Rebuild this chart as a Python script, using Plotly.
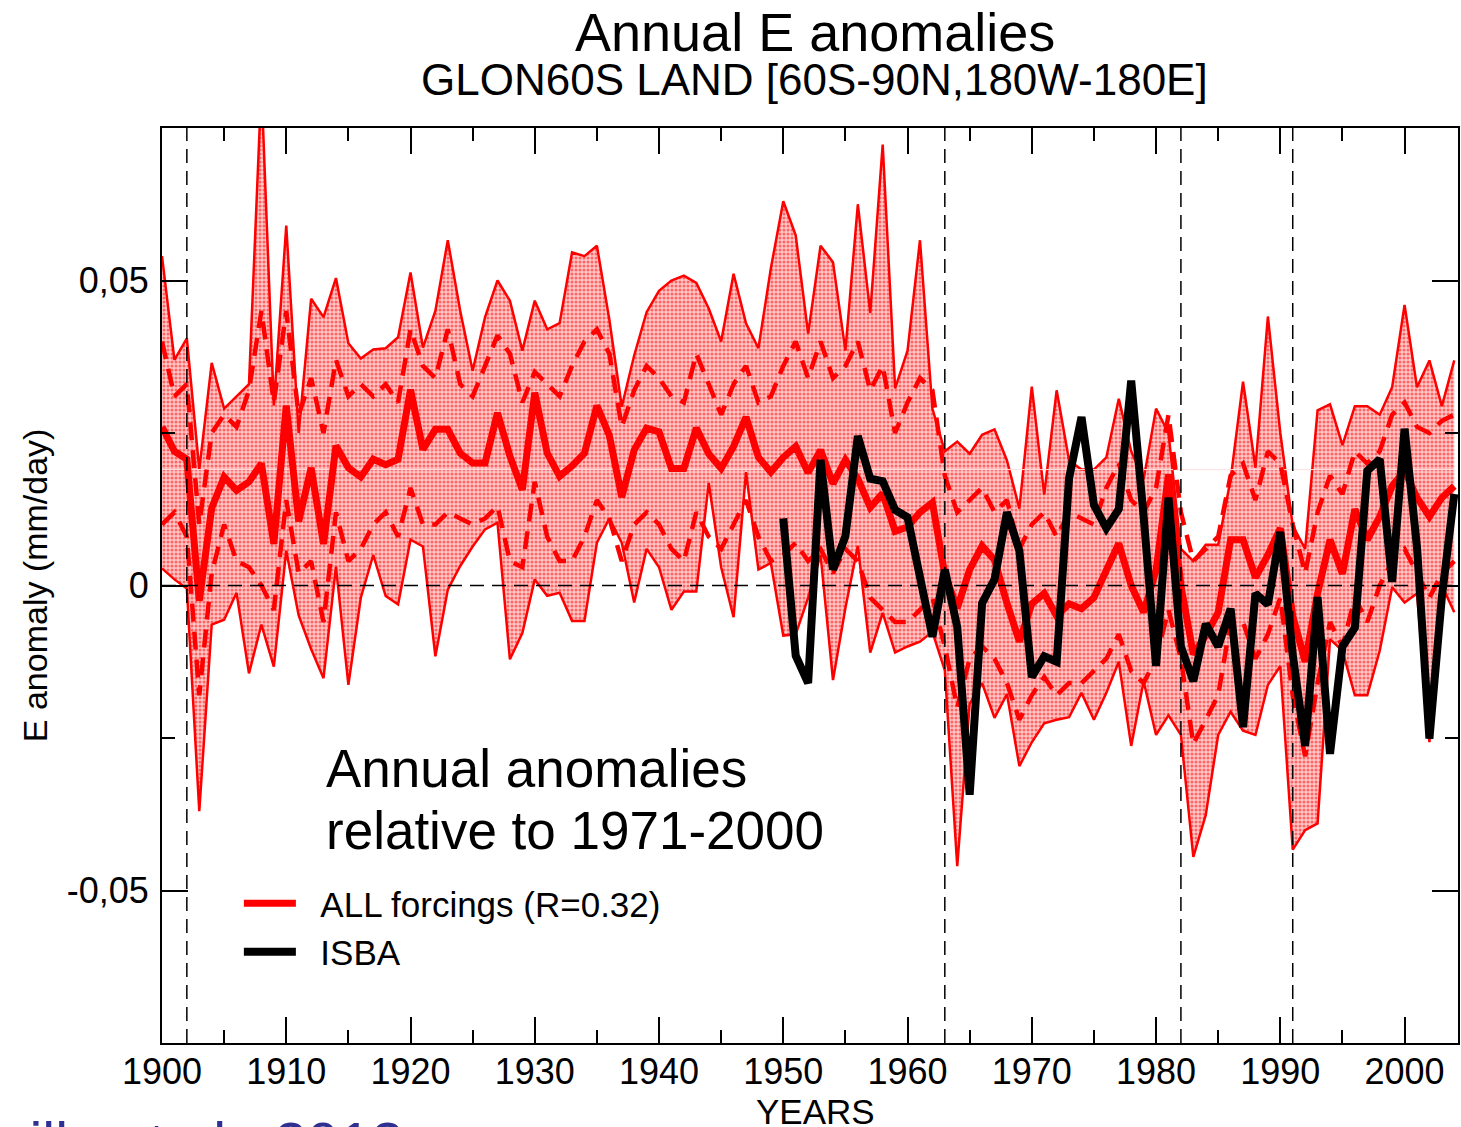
import plotly.graph_objects as go

years = list(range(1900, 2005))

ens_max = [0.054, 0.037, 0.0405, 0.019, 0.0365, 0.029, 0.031, 0.033, 0.082, 0.0295,
           0.059, 0.025, 0.047, 0.044, 0.0504, 0.0397, 0.0372, 0.0387, 0.0389, 0.0407,
           0.0513, 0.039, 0.045, 0.0566, 0.045, 0.0352, 0.044, 0.050, 0.0467, 0.0385,
           0.0467, 0.042, 0.043, 0.0546, 0.054, 0.0557, 0.0436, 0.0293, 0.0377, 0.0448,
           0.0483, 0.050, 0.0508, 0.0496, 0.0454, 0.040, 0.0511, 0.043, 0.0389, 0.052,
           0.063, 0.0574, 0.0413, 0.0557, 0.053, 0.0385, 0.0625, 0.0447, 0.0723, 0.0323,
           0.0385, 0.0566, 0.029, 0.022, 0.0236, 0.0216, 0.0247, 0.0256, 0.0205, 0.0126,
           0.0326, 0.0149, 0.032, 0.0205, 0.019, 0.019, 0.021, 0.0306, 0.022, 0.0174,
           0.029, 0.025, 0.006, 0.004, 0.0067, 0.0067, 0.0174, 0.0334, 0.0193, 0.0441,
           0.025, 0.0098, 0.006, 0.0287, 0.0297, 0.023, 0.0294, 0.0294, 0.028, 0.0325,
           0.046, 0.0325, 0.0369, 0.0294, 0.0369]

ens_min = [0.0028, 0.001, -0.0005, -0.037, -0.0064, -0.0056, -0.0012, -0.0144, -0.0064, -0.0133,
           0.0057, -0.0049, -0.0104, -0.0152, 0.0031, -0.0163, -0.002, 0.005, -0.0017, -0.0031,
           0.0075, 0.0064, -0.0116, -0.0007, 0.0032, 0.0064, 0.0092, 0.0103, -0.0121, -0.0078,
           0.001, -0.0017, -0.0012, -0.0058, -0.0058, 0.007, 0.011, 0.007, -0.0028, 0.006,
           0.003, -0.004, -0.001, -0.001, 0.0168, 0.003, -0.0052, 0.0186, 0.0026, 0.0037,
           -0.0082, -0.008, -0.002, 0.005, -0.0155, -0.0037, 0.0065, -0.011, -0.0045, -0.011,
           -0.010, -0.0092, -0.0076, -0.0139, -0.046, -0.0194, -0.016, -0.0217, -0.0178, -0.0296,
           -0.0257, -0.0226, -0.022, -0.0216, -0.0176, -0.022, -0.0176, -0.0125, -0.0263, -0.0157,
           -0.0245, -0.0213, -0.0245, -0.0445, -0.0376, -0.0245, -0.0207, -0.0238, -0.0245, -0.0163,
           -0.0132, -0.0433, -0.0401, -0.039, -0.0088, -0.0107, -0.018, -0.018, -0.0107, -0.0003,
           -0.0028, -0.0013, -0.0257, 0.0, -0.0044]

ens_mean = [0.026, 0.022, 0.0207, -0.0025, 0.0127, 0.0178, 0.0156, 0.017, 0.020, 0.0068,
            0.0295, 0.0105, 0.0193, 0.0068, 0.0229, 0.0193, 0.0178, 0.0207, 0.0198, 0.0207,
            0.0321, 0.0223, 0.0256, 0.0256, 0.0217, 0.0201, 0.0201, 0.0283, 0.0212, 0.0157,
            0.0316, 0.0217, 0.0179, 0.0196, 0.0217, 0.0295, 0.0246, 0.0145, 0.0222, 0.0258,
            0.0252, 0.0192, 0.0192, 0.0258, 0.0216, 0.0192, 0.0228, 0.0276, 0.021, 0.0186,
            0.021, 0.0228, 0.0185, 0.0222, 0.0167, 0.0206, 0.0175, 0.0128, 0.0151, 0.0089,
            0.0096, 0.012, 0.0136, 0.0018, -0.0037, 0.0026, 0.0065, 0.0042, -0.0029, -0.0092,
            -0.003, -0.0013, -0.005, -0.003, -0.0038, -0.002, 0.0025, 0.0069, 0.0, -0.0044,
            0.0025, 0.0182, 0.0, -0.0113, -0.0082, -0.0044, 0.0075, 0.0075, 0.0013, 0.005,
            0.0094, -0.005, -0.0125, -0.0013, 0.0075, 0.0019, 0.0125, 0.0075, 0.0113, 0.0163,
            0.0188, 0.0144, 0.0113, 0.0144, 0.0163]

ens_plus_std = [0.040, 0.031, 0.033, 0.010, 0.025, 0.028, 0.026, 0.032, 0.045, 0.030,
                0.045, 0.028, 0.034, 0.025, 0.037, 0.031, 0.033, 0.031, 0.033, 0.030,
                0.042, 0.036, 0.034, 0.042, 0.033, 0.031, 0.036, 0.041, 0.038, 0.030,
                0.035, 0.033, 0.031, 0.036, 0.040, 0.042, 0.038, 0.026, 0.032, 0.036,
                0.034, 0.031, 0.030, 0.038, 0.033, 0.028, 0.033, 0.036, 0.030, 0.031,
                0.036, 0.040, 0.034, 0.040, 0.034, 0.036, 0.040, 0.032, 0.036, 0.025,
                0.030, 0.034, 0.032, 0.018, 0.012, 0.014, 0.016, 0.012, 0.014, 0.006,
                0.010, 0.012, 0.008, 0.012, 0.011, 0.010, 0.016, 0.020, 0.014, 0.012,
                0.016, 0.028, 0.012, 0.004, 0.006, 0.008, 0.018, 0.020, 0.014, 0.022,
                0.020, 0.010, 0.002, 0.012, 0.018, 0.015, 0.022, 0.020, 0.022, 0.028,
                0.030, 0.026, 0.025, 0.027, 0.028]

ens_minus_std = [0.010, 0.012, 0.008, -0.018, 0.002, 0.010, 0.004, 0.003, 0.000, -0.004,
                 0.014, 0.002, 0.004, -0.006, 0.012, 0.004, 0.006, 0.010, 0.012, 0.008,
                 0.016, 0.010, 0.010, 0.012, 0.011, 0.010, 0.011, 0.013, 0.004, 0.003,
                 0.017, 0.008, 0.004, 0.004, 0.008, 0.014, 0.011, 0.004, 0.010, 0.012,
                 0.010, 0.006, 0.004, 0.012, 0.008, 0.006, 0.010, 0.014, 0.008, 0.004,
                 0.005, 0.007, 0.004, 0.006, 0.002, 0.006, 0.004, -0.002, -0.004, -0.006,
                 -0.006, -0.004, -0.002, -0.010, -0.020, -0.012, -0.010, -0.012, -0.016, -0.022,
                 -0.018, -0.015, -0.018, -0.016, -0.016, -0.014, -0.012, -0.008, -0.014, -0.016,
                 -0.012, -0.004, -0.012, -0.026, -0.022, -0.018, -0.006, -0.006, -0.012, -0.008,
                 -0.002, -0.018, -0.028, -0.016, -0.006, -0.010, -0.002, -0.006, 0.000, 0.004,
                 0.006, 0.002, -0.002, 0.002, 0.004]

isba_years = list(range(1950, 2005))
isba = [0.011, -0.0115, -0.016, 0.0206, 0.0026, 0.0081, 0.0245, 0.0175, 0.0171, 0.0124,
        0.0112, 0.0018, -0.0084, 0.0026, -0.0068, -0.0343, -0.0029, 0.001, 0.012, 0.0057,
        -0.015, -0.0116, -0.0125, 0.0176, 0.0276, 0.0132, 0.0094, 0.0125, 0.0336, 0.0113,
        -0.0132, 0.0144, -0.010, -0.0157, -0.0063, -0.010, -0.0038, -0.0232, -0.0013, -0.0031,
        0.0088, -0.0113, -0.0263, -0.0019, -0.0276, -0.010, -0.0069, 0.0188, 0.0207, 0.0006,
        0.0257, 0.0063, -0.0251, -0.0019, 0.015]

eruption_years = [1902, 1963, 1982, 1991]
ref_level = 0.019

y_tickvals = [-0.05, 0, 0.05]
y_ticktext = ["-0,05", "0", "0,05"]
x_tickvals = list(range(1900, 2001, 10))

FONT = "Liberation Sans, Arial, sans-serif"
RED = "#ff0000"
NB = "\u00a0\u00a0"

fig = go.Figure()

# envelope fill (min to max)
fig.add_trace(go.Scatter(x=years, y=ens_min, mode="lines",
                         line=dict(color=RED, width=2.5), showlegend=False, hoverinfo="skip"))
fig.add_trace(go.Scatter(x=years, y=ens_max, mode="lines", fill="tonexty",
                         fillcolor="rgba(255,0,0,0.35)",
                         fillpattern=dict(shape=".", fgcolor=RED, bgcolor="rgba(255,200,200,1)",
                                          size=4, solidity=0.45),
                         line=dict(color=RED, width=2.5), showlegend=False, hoverinfo="skip"))

fig.add_trace(go.Scatter(x=[years[0], years[-1]], y=[ref_level, ref_level], mode="lines",
                         line=dict(color="rgba(255,225,225,1)", width=1),
                         showlegend=False, hoverinfo="skip"))

fig.add_trace(go.Scatter(x=years, y=ens_plus_std, mode="lines",
                         line=dict(color=RED, width=4.5, dash="18px,10px"),
                         showlegend=False))
fig.add_trace(go.Scatter(x=years, y=ens_minus_std, mode="lines",
                         line=dict(color=RED, width=4.5, dash="18px,10px"),
                         showlegend=False))

fig.add_trace(go.Scatter(x=years, y=ens_mean, mode="lines", name=NB + "ALL forcings (R=0.32)",
                         line=dict(color=RED, width=7)))
fig.add_trace(go.Scatter(x=isba_years, y=isba, mode="lines", name=NB + "ISBA",
                         line=dict(color="black", width=8)))

shapes = [dict(type="line", xref="paper", yref="y", x0=0, x1=1, y0=0, y1=0,
               line=dict(color="black", width=1.5, dash="14px,8px"), layer="above")]
for yr in eruption_years:
    shapes.append(dict(type="line", xref="x", yref="paper", x0=yr, x1=yr, y0=0, y1=1,
                       line=dict(color="black", width=1.5, dash="14px,8px"), layer="above"))

def px_x(px):
    return (px - 162) / 1298

def px_y(py):
    return (1043 - py) / 915

annotations = [
    dict(text="Annual E anomalies", xref="paper", yref="paper", x=px_x(816), y=px_y(32),
         xanchor="center", yanchor="middle", showarrow=False,
         font=dict(family=FONT, size=54, color="black")),
    dict(text="GLON60S LAND [60S-90N,180W-180E]", xref="paper", yref="paper",
         x=px_x(816), y=px_y(80), xanchor="center", yanchor="middle", showarrow=False,
         font=dict(family=FONT, size=44, color="black")),
    dict(text="Annual anomalies", xref="paper", yref="paper",
         x=px_x(324), y=px_y(768), xanchor="left", yanchor="middle",
         align="left", showarrow=False, font=dict(family=FONT, size=53, color="black")),
    dict(text="relative to 1971-2000", xref="paper", yref="paper",
         x=px_x(324), y=px_y(830), xanchor="left", yanchor="middle",
         align="left", showarrow=False, font=dict(family=FONT, size=53, color="black")),
    dict(text="Douville et al., 2012", xref="paper", yref="paper",
         x=px_x(405), y=px_y(1108), xanchor="right", yanchor="top",
         showarrow=False, font=dict(family=FONT, size=58, color="#2e3192")),
    dict(text="E anomaly (mm/day)", xref="paper", yref="paper",
         x=px_x(35), y=px_y(585), xanchor="center", yanchor="middle",
         textangle=-90, showarrow=False, font=dict(family=FONT, size=34, color="black")),
    dict(text="YEARS", xref="paper", yref="paper",
         x=px_x(817), y=px_y(1111), xanchor="center", yanchor="middle",
         showarrow=False, font=dict(family=FONT, size=35, color="black")),
]

fig.update_layout(
    width=1461, height=1127,
    margin=dict(l=162, r=1, t=128, b=84),
    paper_bgcolor="white", plot_bgcolor="white",
    font=dict(family=FONT, size=36, color="black"),
    shapes=shapes, annotations=annotations,
    showlegend=True,
    legend=dict(x=px_x(239), y=px_y(874), xanchor="left", yanchor="top",
                bgcolor="rgba(0,0,0,0)", font=dict(family=FONT, size=35),
                itemwidth=52, tracegroupgap=0, traceorder="normal"),
)

fig.update_xaxes(range=[1900, 2004.3], tickvals=x_tickvals, ticks="inside", ticklen=26,
                 tickwidth=2, tickcolor="black", showline=True, linecolor="black", linewidth=2,
                 mirror="ticks", showgrid=False, zeroline=False,
                 tickfont=dict(family=FONT, size=36), ticklabelstandoff=-4,
                 minor=dict(dtick=5, tick0=1900, ticks="inside", ticklen=13, tickwidth=2,
                            tickcolor="black", showgrid=False))
fig.update_yaxes(range=[-0.075, 0.075], tickvals=y_tickvals, ticktext=y_ticktext,
                 ticks="inside", ticklen=26, tickwidth=2, tickcolor="black",
                 showline=True, linecolor="black", linewidth=2, mirror="ticks",
                 showgrid=False, zeroline=False,
                 tickfont=dict(family=FONT, size=36), ticklabelstandoff=4,
                 minor=dict(dtick=0.025, tick0=0, ticks="inside", ticklen=13, tickwidth=2,
                            tickcolor="black", showgrid=False))

fig.write_html("out.html")
